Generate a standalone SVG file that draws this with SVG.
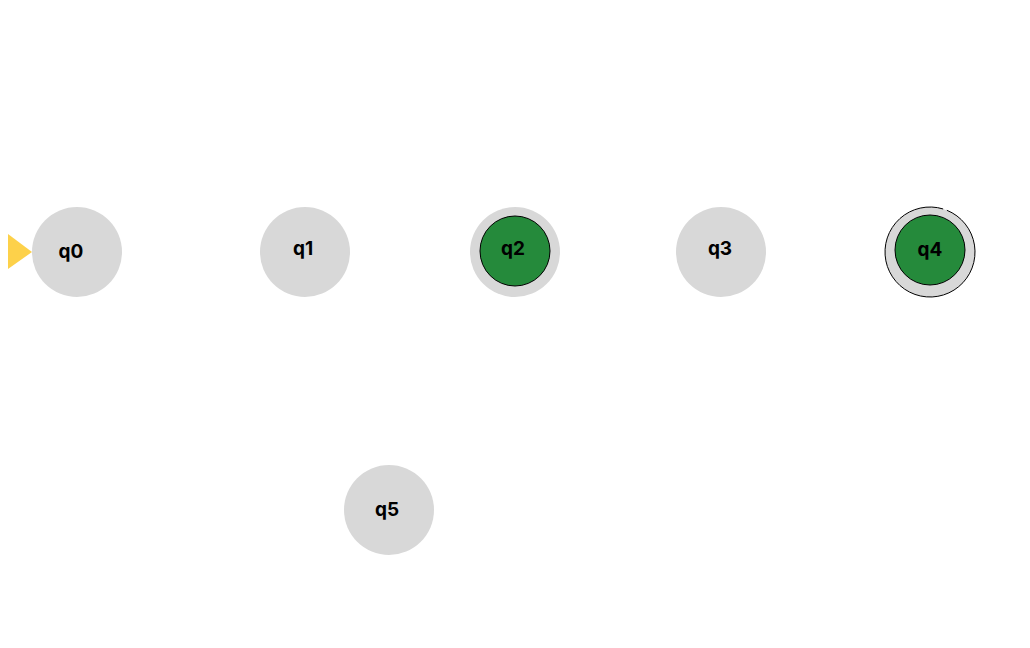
<svg xmlns="http://www.w3.org/2000/svg" width="1030" height="648" viewBox="0 0 1030 648">
<style>
.st{fill:#d8d8d8;}
.acc{fill:#258a3b;stroke:#000;stroke-width:1;}
.lb{font-family:"Inter","Liberation Sans",sans-serif;font-weight:bold;font-size:19px;fill:#000;text-anchor:middle;dominant-baseline:central;}
</style>
<rect width="1030" height="648" fill="#fff"/>
<g id="connectors">
<polygon points="8,234 32,252 8,269" fill="#fdd14a"/>
</g>
<g id="q0"><circle class="st" cx="77" cy="252" r="45"/><text class="lb" x="71" y="251">q0</text></g>
<g id="q1"><circle class="st" cx="305" cy="252" r="45"/><text class="lb" x="303" y="248">q1</text></g>
<g id="q2"><circle class="st" cx="515" cy="252" r="45"/><circle class="acc" cx="515" cy="251" r="35"/><text class="lb" x="513" y="248">q2</text></g>
<g id="q3"><circle class="st" cx="721" cy="252" r="45"/><text class="lb" x="720" y="248">q3</text></g>
<g id="q4"><circle class="st" cx="930" cy="252" r="45"/><path d="M 946.86 210.28 A 45 45 0 1 1 943.16 208.97" fill="none" stroke="#000" stroke-width="1"/><circle class="acc" cx="930" cy="250" r="35"/><text class="lb" x="930" y="249">q4</text></g>
<g id="q5"><circle class="st" cx="389" cy="510" r="45"/><text class="lb" x="387" y="509">q5</text></g>
</svg>
